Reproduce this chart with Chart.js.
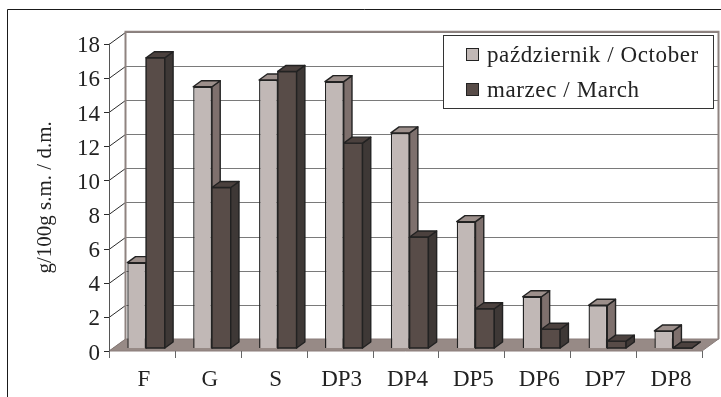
<!DOCTYPE html>
<html>
<head>
<meta charset="utf-8">
<script src="https://cdn.jsdelivr.net/npm/chart.js@4.4.1/dist/chart.umd.min.js"></script>
<style>
  html, body { margin: 0; padding: 0; background: #fff; }
  #wrap { width: 721px; height: 397px; position: relative; }
</style>
</head>
<body>
<div id="wrap"><canvas id="chart" width="721" height="397"></canvas></div>
<script>
const categories = ["F", "G", "S", "DP3", "DP4", "DP5", "DP6", "DP7", "DP8"];
const october = [5.0, 15.3, 15.7, 15.6, 12.6, 7.4, 3.0, 2.5, 1.0];
const march = [17.0, 9.4, 16.2, 12.0, 6.5, 2.3, 1.1, 0.4, 0.0];
const seriesNames = ["październik / October", "marzec / March"];
const yMin = 0, yMax = 18, yStep = 2;
const yTitle = "g/100g s.m. / d.m.";

// face colours per series: front, top, side
const faces = [
    { front: "#c1b8b6", top: "#9c8f8b", side: "#7e706d" },
    { front: "#584c48", top: "#4b413e", side: "#3e3836" }
];
const DEPTH = { x: 16.5, y: -12 };   // floor / wall depth offset
const BAR_FRONT = 0.25, BAR_DEPTH = 0.5;
const serif = "'Liberation Serif', 'Times New Roman', serif";

function poly(ctx, pts, fill, stroke) {
    ctx.beginPath();
    ctx.moveTo(pts[0][0], pts[0][1]);
    for (let i = 1; i < pts.length; i++) ctx.lineTo(pts[i][0], pts[i][1]);
    ctx.closePath();
    if (fill) { ctx.fillStyle = fill; ctx.fill(); }
    if (stroke) { ctx.strokeStyle = stroke; ctx.stroke(); }
}

function seg(ctx, x1, y1, x2, y2) {
    ctx.beginPath();
    ctx.moveTo(x1, y1);
    ctx.lineTo(x2, y2);
    ctx.stroke();
}

const box3d = {
    id: "box3d",
    beforeDraw(chart) {
        const ctx = chart.ctx;
        ctx.save();
        ctx.fillStyle = "#fff";
        ctx.fillRect(0, 0, chart.width, chart.height);
        ctx.strokeStyle = "#1a1a1a";
        ctx.lineWidth = 1;
        ctx.beginPath();
        ctx.moveTo(7.5, chart.height);
        ctx.lineTo(7.5, 9.5);
        ctx.lineTo(chart.width, 9.5);
        ctx.stroke();
        ctx.restore();
    },
    beforeDatasetsDraw(chart) {
        const { ctx, chartArea: a, scales: { x, y } } = chart;
        const dx = DEPTH.x, dy = DEPTH.y;
        ctx.save();
        ctx.lineWidth = 1;

        // back wall gridlines, left wall lines and y tick marks
        y.ticks.forEach(t => {
            const py = Math.round(y.getPixelForValue(t.value)) + 0.5;
            ctx.strokeStyle = "#7a7a7a";
            seg(ctx, a.left + dx, py + dy, a.right + dx, py + dy);
            ctx.strokeStyle = "#2a2a2a";
            seg(ctx, a.left, py, a.left + dx, py + dy);
            seg(ctx, a.left - 5, py, a.left, py);
        });

        // floor
        poly(ctx, [
            [a.left, a.bottom], [a.right, a.bottom],
            [a.right + dx, a.bottom + dy], [a.left + dx, a.bottom + dy]
        ], "#978a86", "#8a7d7a");

        // wall edges
        ctx.strokeStyle = "#8f8380";
        ctx.lineWidth = 2;
        ctx.beginPath();
        ctx.moveTo(a.left + dx, a.bottom + dy);
        ctx.lineTo(a.left + dx, a.top + dy);
        ctx.lineTo(a.right + dx, a.top + dy);
        ctx.lineTo(a.right + dx, a.bottom + dy);
        ctx.stroke();

        // front axes
        ctx.lineWidth = 1;
        ctx.strokeStyle = "#555";
        seg(ctx, a.left + 0.5, a.top, a.left + 0.5, a.bottom);
        ctx.strokeStyle = "#666";
        for (let i = 0; i <= categories.length; i++) {
            const px = Math.round(x.getPixelForValue(i - 0.5)) + 0.5;
            seg(ctx, px, a.bottom, px, a.bottom + 7);
        }

        // bars sit in the middle of the depth
        ctx.translate(dx * BAR_FRONT, dy * BAR_FRONT);
    },
    afterDatasetsDraw(chart) {
        const ctx = chart.ctx;
        const bx = DEPTH.x * BAR_DEPTH, by = DEPTH.y * BAR_DEPTH;
        ctx.lineWidth = 1.4;
        ctx.lineJoin = "round";
        categories.forEach((c, i) => {
            chart.data.datasets.forEach((ds, d) => {
                const bar = chart.getDatasetMeta(d).data[i];
                const l = bar.x - bar.width / 2, r = bar.x + bar.width / 2;
                const t = bar.y, b = bar.base;
                const f = faces[d];
                if (d > 0) poly(ctx, [[l, t], [r, t], [r, b], [l, b]], f.front, "#222");
                poly(ctx, [[r, t], [r + bx, t + by], [r + bx, b + by], [r, b]], f.side, "#222");
                poly(ctx, [[l, t], [l + bx, t + by], [r + bx, t + by], [r, t]], f.top, "#222");
            });
        });
        ctx.restore();
    },
    afterDraw(chart) {
        const ctx = chart.ctx;
        ctx.save();
        ctx.fillStyle = "#fff";
        ctx.fillRect(443.5, 35.5, 270, 73);
        ctx.strokeStyle = "#333";
        ctx.lineWidth = 1;
        ctx.strokeRect(443.5, 35.5, 270, 73);
        ctx.font = "23px " + serif;
        ctx.letterSpacing = "0.6px";
        ctx.textBaseline = "middle";
        seriesNames.forEach((name, d) => {
            const cy = 55 + d * 35;
            ctx.fillStyle = faces[d].front;
            ctx.fillRect(466.5, cy - 6.5, 12, 12);
            ctx.strokeStyle = "#222";
            ctx.strokeRect(466.5, cy - 6.5, 12, 12);
            ctx.fillStyle = "#222";
            ctx.fillText(name, 487, cy + 1);
        });
        ctx.restore();
    }
};

new Chart(document.getElementById("chart"), {
    type: "bar",
    data: {
        labels: categories,
        datasets: [
            { label: seriesNames[0], data: october, backgroundColor: faces[0].front },
            { label: seriesNames[1], data: march, backgroundColor: faces[1].front }
        ]
    },
    options: {
        responsive: false,
        animation: false,
        devicePixelRatio: 1,
        layout: { padding: { top: 43.7, right: 19, bottom: 0, left: 0 } },
        datasets: {
            bar: {
                categoryPercentage: 0.57,
                barPercentage: 1,
                borderColor: "#222",
                borderWidth: 1.4,
                clip: false
            }
        },
        plugins: { legend: { display: false }, tooltip: { enabled: false } },
        scales: {
            x: {
                grid: { display: false, drawTicks: false },
                border: { display: false },
                ticks: { font: { family: serif, size: 23 }, color: "#222", padding: 15, labelOffset: 2, autoSkip: false, maxRotation: 0 },
                afterFit(s) { s.height = 46; }
            },
            y: {
                min: yMin,
                max: yMax,
                grid: { display: false, drawTicks: false },
                border: { display: false },
                ticks: { stepSize: yStep, font: { family: serif, size: 23 }, color: "#222", padding: 9, labelOffset: 2.5 },
                title: {
                    display: true,
                    text: yTitle,
                    font: { family: serif, size: 21 },
                    color: "#222",
                    padding: { top: 33, bottom: 0 }
                },
                afterFit(s) { s.width = 109; }
            }
        }
    },
    plugins: [box3d]
});
</script>
</body>
</html>
